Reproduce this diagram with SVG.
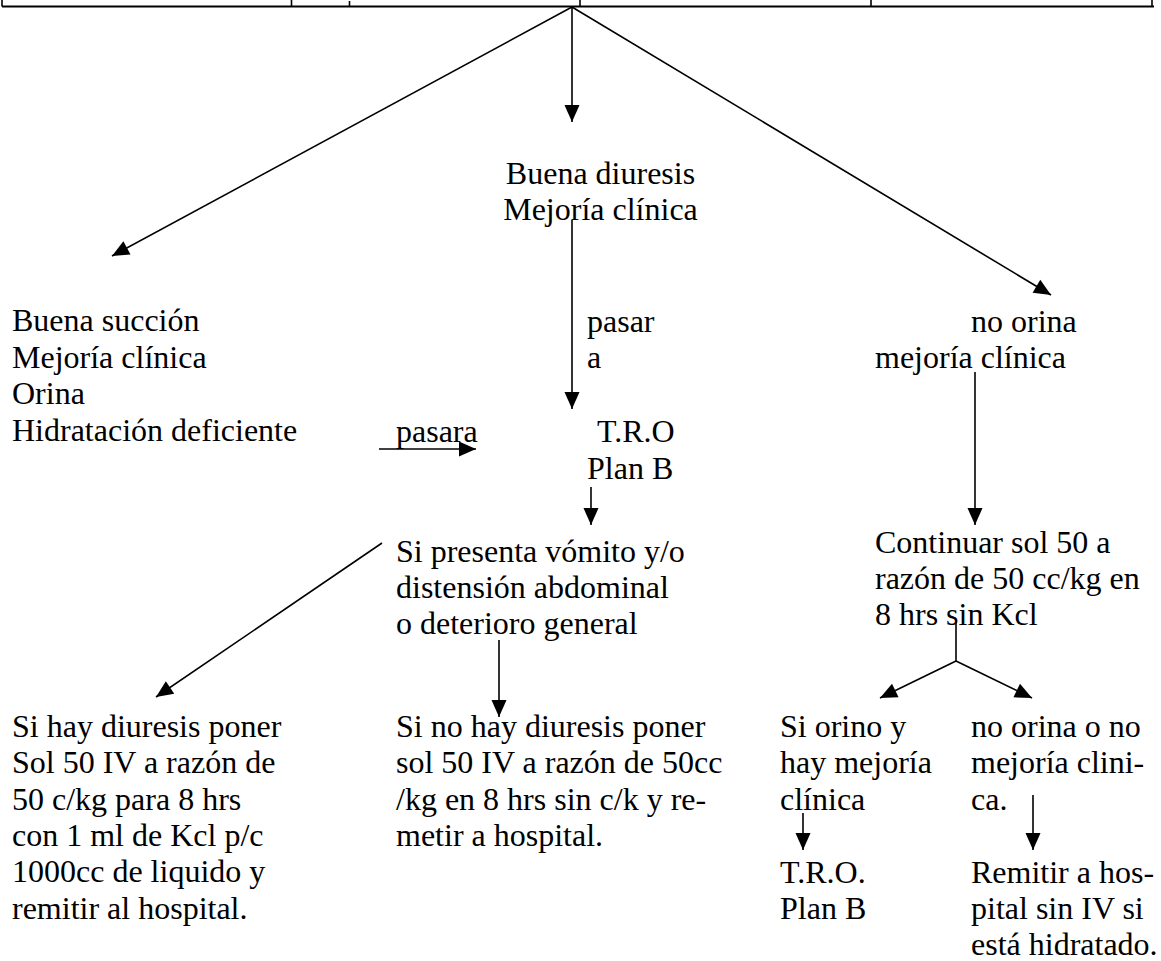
<svg xmlns="http://www.w3.org/2000/svg" width="1161" height="961" viewBox="0 0 1161 961">
<style>
text{font-family:"Liberation Serif","Times New Roman",serif;font-size:32px;fill:#000}
.ln{stroke:#000;stroke-width:1.6;fill:none}
.ar{stroke:#000;stroke-width:1.6;fill:none;marker-end:url(#ah)}
.tb{stroke:#000;stroke-width:1.8;fill:none}
</style>
<defs>
<marker id="ah" markerUnits="userSpaceOnUse" markerWidth="18" markerHeight="16" refX="17" refY="8" orient="auto" overflow="visible">
<path d="M0,0.5 L17,8 L0,15.5 z" fill="#000"/>
</marker>
</defs>
<rect width="1161" height="961" fill="#fff"/>
<g id="table">
<line class="tb" x1="2" y1="6.5" x2="1154" y2="6.5"/>
<line class="ln" x1="2" y1="0" x2="2" y2="6.5"/>
<line class="ln" x1="291.5" y1="0" x2="291.5" y2="6.5"/>
<line class="ln" x1="580" y1="0" x2="580" y2="6.5"/>
<line class="ln" x1="871" y1="0" x2="871" y2="6.5"/>
<line class="ln" x1="1152" y1="0" x2="1152" y2="6.5"/>
<line class="ln" x1="349.5" y1="1" x2="349.5" y2="6.5"/>
</g>
<g id="connectors">
<line class="ar" x1="572" y1="7" x2="112" y2="256"/>
<line class="ar" x1="572" y1="7" x2="572" y2="122"/>
<line class="ar" x1="572" y1="7" x2="1051" y2="295"/>
<line class="ar" x1="572" y1="220" x2="572" y2="409"/>
<line class="ar" x1="379" y1="449" x2="476" y2="449"/>
<line class="ar" x1="591" y1="487" x2="591" y2="525"/>
<line class="ar" x1="382" y1="543" x2="156" y2="697"/>
<line class="ar" x1="499" y1="640" x2="499" y2="717"/>
<line class="ar" x1="975" y1="372" x2="975" y2="525"/>
<line class="ln" x1="956" y1="620" x2="956" y2="661"/>
<line class="ar" x1="956" y1="661" x2="880" y2="698"/>
<line class="ar" x1="956" y1="661" x2="1032" y2="698"/>
<line class="ar" x1="803" y1="813" x2="803" y2="850"/>
<line class="ar" x1="1033" y1="795" x2="1033" y2="850"/>
</g>
<g id="n-buena-diuresis">
<text x="600.5" y="184" text-anchor="middle">Buena diuresis</text>
<text x="600.5" y="220" text-anchor="middle">Mejoría clínica</text>
</g>
<g id="n-buena-succion">
<text x="12" y="331">Buena succión</text>
<text x="12" y="367.5">Mejoría clínica</text>
<text x="12" y="404">Orina</text>
<text x="12" y="440.5">Hidratación deficiente</text>
</g>
<g id="n-pasar-a">
<text x="587" y="332">pasar</text>
<text x="587" y="368">a</text>
</g>
<g id="n-pasara">
<text x="396" y="442">pasara</text>
</g>
<g id="n-tro">
<text x="597" y="442">T.R.O</text>
<text x="587" y="478.5">Plan B</text>
</g>
<g id="n-no-orina">
<text x="971" y="332">no orina</text>
<text x="875" y="368">mejoría clínica</text>
</g>
<g id="n-si-presenta">
<text x="396" y="562">Si presenta vómito y/o</text>
<text x="396" y="598">distensión abdominal</text>
<text x="396" y="634">o deterioro general</text>
</g>
<g id="n-continuar">
<text x="875" y="553">Continuar sol 50 a</text>
<text x="875" y="589">razón de 50 cc/kg en</text>
<text x="875" y="625">8 hrs sin Kcl</text>
</g>
<g id="n-si-hay-diuresis">
<text x="12" y="737">Si hay diuresis poner</text>
<text x="12" y="773">Sol 50 IV a razón de</text>
<text x="12" y="809.5">50 c/kg para 8 hrs</text>
<text x="12" y="846">con 1 ml de Kcl p/c</text>
<text x="12" y="882">1000cc de liquido y</text>
<text x="12" y="918.5">remitir al hospital.</text>
</g>
<g id="n-si-no-hay-diuresis">
<text x="396" y="737">Si no hay diuresis poner</text>
<text x="396" y="773">sol 50 IV a razón de 50cc</text>
<text x="396" y="809.5">/kg en 8 hrs sin c/k y re-</text>
<text x="396" y="846">metir a hospital.</text>
</g>
<g id="n-si-orino">
<text x="780" y="737">Si orino y</text>
<text x="780" y="773">hay mejoría</text>
<text x="780" y="809.5">clínica</text>
</g>
<g id="n-tro-2">
<text x="780" y="883">T.R.O.</text>
<text x="780" y="919">Plan B</text>
</g>
<g id="n-no-orina-o-no">
<text x="971" y="737">no orina o no</text>
<text x="971" y="773">mejoría clini-</text>
<text x="971" y="809.5">ca.</text>
</g>
<g id="n-remitir">
<text x="971" y="883">Remitir a hos-</text>
<text x="971" y="919">pital sin IV si</text>
<text x="971" y="955">está hidratado.</text>
</g>
</svg>
